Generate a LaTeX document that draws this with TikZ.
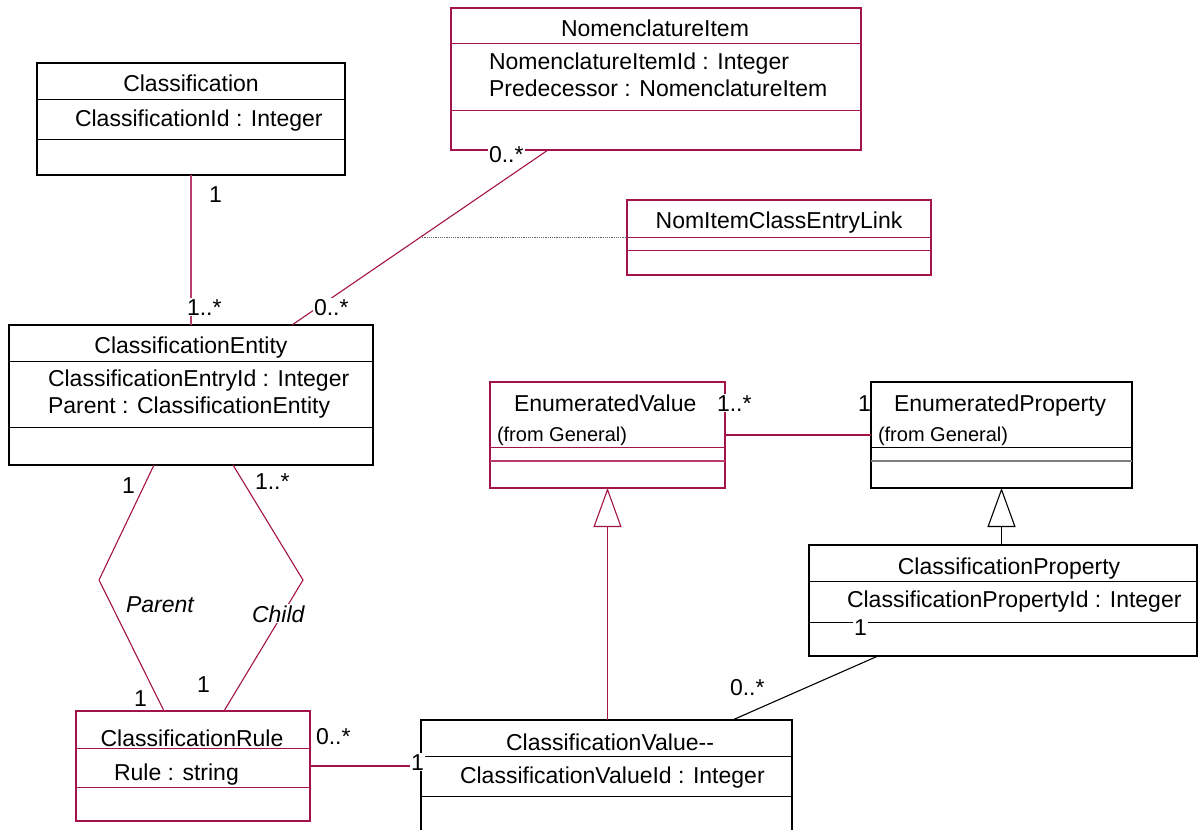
\documentclass[tikz,border=0pt]{standalone}
\usepackage{fontspec}
\setmainfont{Liberation Sans}
\usetikzlibrary{arrows.meta,calc}

\definecolor{umlred}{RGB}{163,18,72}
\definecolor{umlpink}{RGB}{185,62,112}
\definecolor{linkgray}{RGB}{100,100,100}

\tikzset{
  classbox/.style={draw, line width=1.2pt, inner sep=0pt, outer sep=0pt, fill=white},
  redbox/.style={classbox, draw=umlred},
  blackbox/.style={classbox, draw=black},
  txt/.style={inner sep=0pt, outer sep=0pt, font=\fontsize{23}{28}\selectfont},
  smalltxt/.style={inner sep=0pt, outer sep=0pt, font=\fontsize{20}{24}\selectfont},
  mult/.style={txt, fill=white, inner sep=1pt},
  role/.style={txt, font=\fontsize{23}{28}\selectfont\itshape},
  assoc/.style={line width=1.1pt, draw=umlred},
  assocblack/.style={line width=1.1pt, draw=black},
  gentip/.style={-{Triangle[open, length=39pt, width=28pt]}},
}

% horizontal compartment separator inside a class box
\newcommand\compsep[3]{\draw[#3] (#1.west |- 0,#2) -- (#1.east |- 0,#2);}

\begin{document}
\begin{tikzpicture}[x=1pt, y=-1pt]
\path[use as bounding box] (0,0) rectangle (1198,829);
\clip (0,0) rectangle (1198,829);

% ---------- class boxes ----------
\node[blackbox, minimum width=308, minimum height=112] (cls)  at (191,119)    {};
\node[redbox,   minimum width=410, minimum height=142] (nom)  at (656,79)     {};
\node[redbox,   minimum width=304, minimum height=75]  (link) at (779,237.5)  {};
\node[blackbox, minimum width=364, minimum height=140] (ce)   at (191,395)    {};
\node[redbox,   minimum width=234, minimum height=110] (rule) at (193,766)    {};
\node[blackbox, minimum width=371, minimum height=150] (cv)   at (606.5,795)  {};
\node[redbox,   minimum width=235, minimum height=106] (ev)   at (607.5,435)  {};
\node[blackbox, minimum width=261, minimum height=106] (ep)   at (1001.5,435) {};
\node[blackbox, minimum width=388, minimum height=111] (cp)   at (1003,600.5) {};

% compartments
\compsep{cls}{100}{line width=1pt, black}
\compsep{cls}{140}{line width=1pt, black}
\compsep{nom}{44}{line width=1pt, umlred}
\compsep{nom}{111}{line width=1pt, umlred}
\compsep{link}{237}{line width=1pt, umlred}
\compsep{link}{250}{line width=1pt, umlred}
\compsep{ce}{361}{line width=1pt, black}
\compsep{ce}{427}{line width=1pt, black}
\compsep{rule}{748}{line width=1pt, umlred}
\compsep{rule}{787}{line width=1pt, umlred}
\compsep{cv}{756}{line width=1pt, black}
\compsep{cv}{796}{line width=1pt, black}
\compsep{ev}{447}{line width=1pt, umlred}
\compsep{ev}{461}{line width=1.3pt, umlpink}
\compsep{ep}{447}{line width=1pt, black}
\compsep{ep}{461}{line width=1.3pt, gray}
\compsep{cp}{581}{line width=1pt, black}
\compsep{cp}{622}{line width=1pt, black}

% ---------- class texts ----------
\node[txt, anchor=base] (clsT) at (191,92) {Classification};
\node[txt, anchor=base west] (clsA) at (75,127) {ClassificationId : Integer};

\node[txt, anchor=base] (nomT) at (655,37) {NomenclatureItem};
\node[txt, anchor=base west] (nomA1) at (489,70) {NomenclatureItemId : Integer};
\node[txt, anchor=base west] (nomA2) at (489,97) {Predecessor : NomenclatureItem};

\node[txt, anchor=base] (linkT) at (779,228) {NomItemClassEntryLink};

\node[txt, anchor=base] (ceT) at (191,353) {ClassificationEntity};
\node[txt, anchor=base west] (ceA1) at (48,386) {ClassificationEntryId : Integer};
\node[txt, anchor=base west] (ceA2) at (48,413) {Parent : ClassificationEntity};

\node[txt, anchor=base] (ruleT) at (192,746) {ClassificationRule};
\node[txt, anchor=base west] (ruleA) at (114,780) {Rule : string};

\node[txt, anchor=base] (cvT) at (610,750) {ClassificationValue-{}-};
\node[txt, anchor=base west] (cvA) at (460,783) {ClassificationValueId : Integer};

\node[txt, anchor=base west] (evT) at (514,411) {EnumeratedValue};
\node[smalltxt, anchor=base west] (evS) at (497,441) {(from General)};

\node[txt, anchor=base west] (epT) at (894,411) {EnumeratedProperty};
\node[smalltxt, anchor=base west] (epS) at (878,441) {(from General)};

\node[txt, anchor=base] (cpT) at (1009,574) {ClassificationProperty};
\node[txt, anchor=base west] (cpA) at (847,607) {ClassificationPropertyId : Integer};

% ---------- connectors ----------
\draw[line width=1.1pt, umlpink] (cls.south) -- (ce.north);

\coordinate (nomEnd) at ([xshift=-108pt]nom.south);
\coordinate (ceEnd)  at ([xshift=101pt]ce.north);
\draw[assoc] (nomEnd) -- (ceEnd);
\coordinate (linkPt) at ($(nomEnd)!0.5!(ceEnd)$);
\draw[line width=1.3pt, linkgray, dash pattern=on 1.2pt off 1pt] (linkPt) -- (linkPt -| link.west);

\coordinate (parentBend) at (99,580);
\coordinate (childBend)  at (303,580);
\draw[assoc] ([xshift=-37pt]ce.south) -- (parentBend) -- ([xshift=-29pt]rule.north);
\draw[assoc] ([xshift=42pt]ce.south) -- (childBend) -- ([xshift=31pt]rule.north);

\draw[assoc] (rule.east) -- (rule.east -| cv.west);
\draw[assoc] (ev.east) -- (ep.west);

\draw[line width=1.1pt, umlred, gentip] (ev.south |- cv.north) -- (ev.south);
\draw[line width=1.1pt, black, gentip] (ep.south |- cp.north) -- (ep.south);

\draw[assocblack] ([xshift=-125pt]cp.south) -- ([xshift=126pt]cv.north);

% ---------- multiplicities and role names ----------
\node[txt,  anchor=base west] (m1) at (209,202) {1};
\node[mult, anchor=base west] (m2) at (186,315) {1..*};
\node[mult, anchor=base west] (m3) at (313,315) {0..*};
\node[mult, anchor=base west] (m4) at (488,163) {0..*};
\node[txt,  anchor=base west] (m5) at (122,493) {1};
\node[txt,  anchor=base west] (m6) at (255,489) {1..*};
\node[role, anchor=base west] (rParent) at (126,612) {Parent};
\node[role, anchor=base west, fill=white, inner sep=1pt] (rChild) at (251,622) {Child};
\node[mult, anchor=base west] (m7) at (133,706) {1};
\node[txt,  anchor=base west] (m8) at (197,692) {1};
\node[txt,  anchor=base west] (m9) at (316,744) {0..*};
\node[mult, anchor=base west] (m10) at (410,770) {1};
\node[txt,  anchor=base west] (m11) at (730,695) {0..*};
\node[mult, anchor=base west] (m12) at (716,411) {1..*};
\node[txt,  anchor=base west] (m13) at (858,411) {1};
\node[mult, anchor=base west] (m14) at (853,635) {1};
\end{tikzpicture}
\end{document}
